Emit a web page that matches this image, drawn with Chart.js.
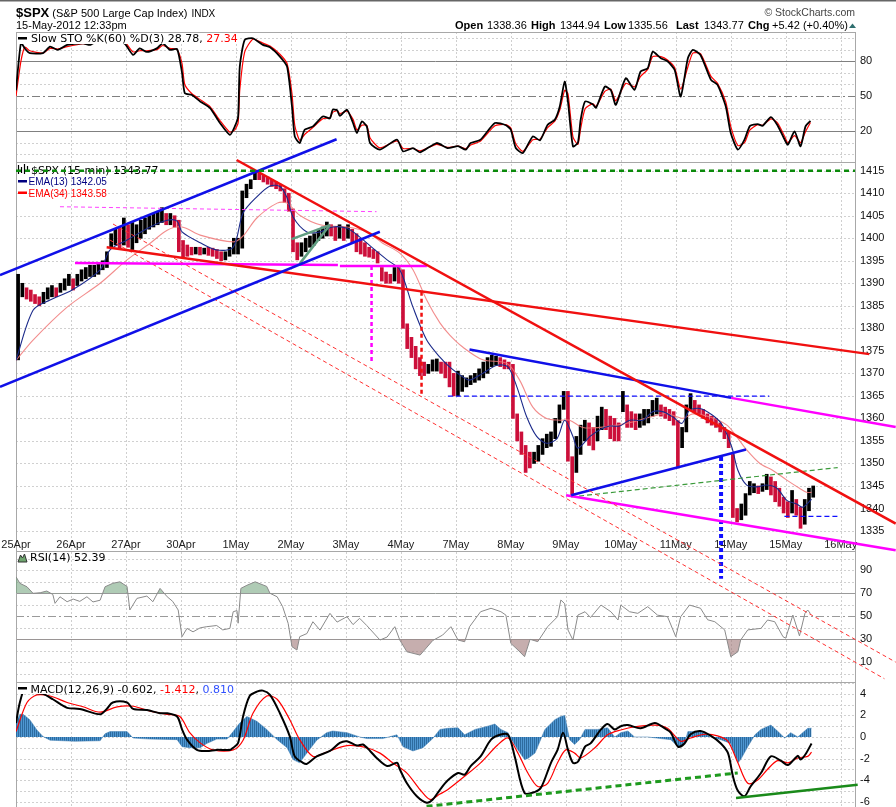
<!DOCTYPE html>
<html><head><meta charset="utf-8">
<script src="https://cdn.jsdelivr.net/npm/chart.js@4/dist/chart.umd.min.js"></script>
<style>html,body{margin:0;padding:0;background:#fff;overflow:hidden}canvas{display:block}</style>
</head><body>
<canvas id="c" width="896" height="807" style="width:896px;height:807px"></canvas>
<script>
// ---------------- DATA ----------------
const dateLabels = ['25Apr','26Apr','27Apr','30Apr','1May','2May','3May','4May','7May','8May','9May','10May','11May','14May','15May','16May'];
const BARS_PER_DAY = 13; // 30-minute bars per session

const priceHigh = [
 1392,1390,1389,1388.5,1387.5,1387,1388,1389,1389.5,1389,1390,1391,1392,
 1391,1392,1393,1393.5,1394,1394,1394.5,1395,1397,1401,1402,1402.5,1404.5,
 1403,1403.5,1403,1404,1404.5,1405,1405.5,1406,1406.8,1405.5,1405.5,1405,1404,
 1399.5,1398.5,1398,1398,1398,1397.8,1398,1397.8,1397.5,1397,1397,1398,1400,
 1400,1410.5,1412,1413,1414.7,1414.5,1414,1413.6,1413,1412.5,1412,1411,1410,
 1406.5,1399,1399,1400,1400.5,1401,1402,1402.5,1403.6,1403,1402.5,1403,1402.5,
 1403,1402,1401,1400,1399,1398,1397.5,1397,1393.5,1392.5,1392,1393.5,1393.5,
 1393,1381,1378,1376,1373.5,1372.5,1372,1373,1373.2,1372.5,1372.5,1372.5,1370,
 1370.5,1369.5,1369,1369.5,1370,1371,1372.5,1373.5,1374,1373.8,1373.5,1373,1372.5,
 1372,1361,1357,1354,1352.5,1352.5,1354,1355.5,1356.5,1357,1360,1363,1366,
 1366,1351.5,1356,1358.5,1359.6,1359,1358,1360.5,1362.5,1362,1360.5,1360,1359,
 1366,1363,1361.5,1361,1361,1362,1362,1364,1364.5,1363,1362.5,1362,1361.5,
 1359.5,1358,1363,1365.5,1364,1363,1362,1361,1360.5,1360,1359,1358,1357,
 1352,1340,1341,1343.3,1346,1345.5,1345,1345.5,1347.6,1347,1346,1344.5,1342.5,
 1341.5,1344,1342,1340.3,1342,1344.5,1345
];
const priceLow = [
 1373,1387,1386.5,1386,1385.5,1385,1385.5,1386.5,1387,1387,1388,1388.5,1389.5,
 1388.5,1389.5,1390.5,1391,1391.5,1391.5,1392,1393,1393.5,1398,1398.5,1397.5,1398.5,
 1398,1397.5,1399,1400,1401,1402,1402.5,1403,1403.5,1403,1403,1402.5,1397,
 1395.8,1396,1396.3,1396.5,1396.3,1396.5,1396.2,1396,1395.5,1395,1395.2,1396,1396.5,
 1396.5,1397.8,1409,1411,1413,1413,1412.5,1412,1411.5,1411,1410.5,1408,1406,
 1397,1395.2,1396,1397,1398,1398.5,1399.5,1400,1400.5,1400.5,1399.5,1400,1399.5,
 1400,1399,1397,1396.5,1396,1395.8,1395.5,1394.5,1390.5,1390,1390,1390.5,1390,
 1380,1375.5,1373.5,1371,1369.5,1369.5,1370,1370.5,1370.5,1370,1369,1367,1365,
 1365,1366,1367,1367.5,1368,1368.5,1369,1370,1371.5,1371.8,1371.5,1371,1371,
 1360,1355,1352,1348,1349,1350,1350.5,1352,1353.5,1353.8,1355.5,1359,1362,
 1350.5,1343,1348,1352,1355,1354,1353,1355,1357.5,1357.5,1355.5,1355,1355,
 1361.5,1358,1358,1357.5,1358,1358.5,1359,1360.5,1361,1360.5,1360,1359.5,1358.5,
 1349,1353.5,1357,1362,1361.5,1361,1360,1359,1358.5,1358,1357,1355.5,1353.5,
 1338,1337,1337.5,1338.5,1343,1343.5,1343.3,1343.8,1344.2,1343,1341.5,1340.5,1339,
 1338,1339,1338.5,1335.6,1336.5,1339.5,1342.5
];

// [trading day, value]
const ema13 = [[0,1372.9],[0.31,1384],[0.62,1386.3],[1.02,1388.5],[1.53,1393],[1.71,1397.4],[2.02,1399.6],[2.44,1402.5],[2.75,1404],[2.93,1403.8],
 [3.02,1401.4],[3.35,1399],[3.65,1397.4],[3.95,1398],[4.13,1405.6],[4.38,1409.2],[4.62,1411.6],[4.8,1411.5],[4.93,1409],[5.04,1404.7],
 [5.29,1401.4],[5.53,1401.4],[5.76,1402.5],[6.02,1402.2],[6.25,1400.3],[6.49,1397.8],[6.75,1395.2],[6.98,1393],[7.22,1384.7],[7.47,1377.4],
 [7.71,1373.6],[7.89,1371.4],[8.13,1369.2],[8.25,1368.5],[8.49,1370],[8.75,1371.8],[8.95,1371.4],[9.11,1367],[9.29,1360.3],[9.47,1356],
 [9.65,1354.5],[9.84,1355.5],[9.98,1359.6],[10.13,1356],[10.22,1353.4],[10.44,1356],[10.62,1357.5],[10.8,1358.3],[10.98,1358.3],[11.16,1359.6],
 [11.4,1359.6],[11.58,1361.5],[11.76,1361.5],[11.95,1360.3],[12.11,1358.9],[12.25,1361.8],[12.44,1362.2],[12.67,1360.7],[12.85,1358.5],[13.02,1353.6],
 [13.13,1348.5],[13.29,1345.2],[13.47,1344.8],[13.65,1345.2],[13.84,1344.5],[14.02,1341.8],[14.2,1341],[14.31,1340.3],[14.47,1342.05]];
const ema34 = [[0,1372.9],[0.31,1377.4],[0.93,1384.7],[1.53,1390],[2.02,1395.2],[2.44,1398.9],[2.75,1401.8],[3.02,1402.5],[3.35,1400.7],[3.95,1399.2],
 [4.13,1400.5],[4.38,1404.5],[4.75,1407.8],[4.93,1407.8],[5.16,1405.1],[5.53,1403],[6.02,1402.5],[6.38,1401.4],[6.67,1398.9],[6.98,1396.7],
 [7.22,1393],[7.47,1386.3],[7.71,1381.2],[7.89,1378.5],[8.13,1375.8],[8.49,1373],[8.93,1372.2],[9.16,1368.5],[9.4,1362.5],[9.65,1360],
 [9.89,1359.6],[10.07,1359.6],[10.31,1358],[10.62,1358],[10.93,1358.5],[11.22,1359.2],[11.53,1360.3],[11.84,1361.1],[12.13,1360],[12.31,1361],
 [12.62,1360.3],[12.93,1358.5],[13.11,1355.9],[13.29,1353],[13.53,1350],[13.76,1348.5],[14.02,1346.3],[14.25,1344.5],[14.38,1343.6],[14.47,1343.58]];

const stoK = [[0,55],[0.09,95.7],[0.16,91],[0.25,86.9],[0.49,87],[0.62,92.5],[0.76,89.7],[0.93,94],[1.22,95.4],[1.35,94],
 [1.53,99],[1.8,99.5],[1.98,95],[2.13,85.4],[2.25,91],[2.38,88],[2.56,91],[2.67,95.4],[2.8,89.7],[2.93,90.5],
 [3.02,70],[3.07,52.6],[3.2,51],[3.35,45.4],[3.53,39.7],[3.71,26.9],[3.89,16.8],[3.98,24],[4.04,32.5],[4.07,75.4],
 [4.16,98.3],[4.31,99.7],[4.49,94],[4.62,92],[4.8,84],[4.93,75.4],[5.02,41],[5.07,15.4],[5.16,9.7],[5.25,21.1],
 [5.4,24],[5.58,32.5],[5.71,31],[5.76,38.3],[5.84,38],[5.89,33],[6.02,38.3],[6.13,26.9],[6.2,18.3],[6.29,28.2],
 [6.38,24],[6.44,9.7],[6.62,4],[6.93,12.6],[7.04,2.5],[7.22,5.4],[7.35,1.7],[7.65,9.7],[7.85,5.4],[8.04,7],
 [8.18,4],[8.27,9.7],[8.45,12.6],[8.71,26.9],[8.91,25],[9.0,21.1],[9.09,5.4],[9.22,1.1],[9.4,15.4],[9.53,12],
 [9.67,25.4],[9.8,29.7],[9.89,41.1],[9.98,62.5],[10.04,45],[10.13,6.8],[10.22,10],[10.27,29.7],[10.35,45.4],[10.49,43],
 [10.55,40],[10.71,58.2],[10.82,55],[10.91,42.5],[11.09,65.4],[11.25,55.4],[11.36,71.1],[11.49,74],[11.58,88.2],[11.73,82.5],
 [11.85,80],[11.98,72.5],[12.09,49.7],[12.22,82.5],[12.31,89.7],[12.45,85.4],[12.64,64],[12.76,59.7],[12.91,41.1],[13.0,18.3],
 [13.13,4],[13.25,12.6],[13.35,24.5],[13.49,26],[13.58,24.5],[13.73,32],[13.85,25],[13.98,12.6],[14.04,8.3],[14.16,19.7],
 [14.27,6.8],[14.36,24],[14.45,28.78]];
const stoD = [[0,50],[0.09,80],[0.16,92],[0.25,89],[0.49,87],[0.62,91],[0.76,90.5],[0.93,92.5],[1.22,95],[1.35,94.5],
 [1.53,98],[1.8,99.5],[1.98,96.5],[2.13,88],[2.25,89],[2.38,89],[2.56,90],[2.67,93.5],[2.8,91],[2.93,90],
 [3.02,78],[3.07,60],[3.2,52],[3.35,47],[3.53,41],[3.71,29],[3.89,19],[3.98,21],[4.04,27],[4.07,55],
 [4.16,88],[4.31,99],[4.49,95.5],[4.62,93],[4.8,86],[4.93,78],[5.02,52],[5.07,25],[5.16,12],[5.25,17],
 [5.4,23],[5.58,30.5],[5.71,31.5],[5.76,36],[5.84,37.5],[5.89,35],[6.02,37],[6.13,30],[6.2,21],[6.29,25],
 [6.38,25],[6.44,14],[6.62,5.5],[6.93,11.5],[7.04,5],[7.22,5],[7.35,3],[7.65,8.5],[7.85,6],[8.04,7],
 [8.18,5],[8.27,8],[8.45,11.5],[8.71,24.5],[8.91,25.5],[9.0,22.5],[9.09,9],[9.22,2.5],[9.4,12.5],[9.53,13],
 [9.67,23],[9.8,28.5],[9.89,38],[9.98,55],[10.04,52],[10.13,15],[10.22,8.5],[10.27,22],[10.35,39],[10.49,43.5],
 [10.55,41],[10.71,54],[10.82,56],[10.91,46],[11.09,61],[11.25,58],[11.36,67],[11.49,73],[11.58,84],[11.73,84],
 [11.85,81],[11.98,74.5],[12.09,56],[12.22,75],[12.31,87],[12.45,86.5],[12.64,67],[12.76,61],[12.91,45],[13.0,24],
 [13.13,7.5],[13.25,10],[13.35,21],[13.49,25.5],[13.58,25],[13.73,30.5],[13.85,27],[13.98,15.5],[14.04,10],[14.16,16],
 [14.27,10],[14.36,19.5],[14.45,27.34]];

const rsi14 = [[0,84.4],[0.07,78.7],[0.2,75.7],[0.31,70],[0.44,70.5],[0.56,72],[0.67,69],[0.71,61.3],[0.8,67],[0.93,62.7],
 [1.04,65],[1.16,63],[1.29,67],[1.4,62.5],[1.53,64],[1.62,75.7],[1.76,78.7],[1.89,80],[2.02,76],[2.07,55.5],
 [2.2,65.6],[2.38,67.6],[2.49,62.7],[2.62,74.3],[2.75,67],[2.85,63],[2.95,55.5],[3.02,32.3],[3.11,39.5],[3.22,36.5],
 [3.35,40],[3.47,41],[3.65,42],[3.76,38.2],[3.89,39.5],[3.95,54],[4.02,55],[4.04,44],[4.09,74.3],[4.2,77],
 [4.35,80],[4.56,76],[4.62,70],[4.75,67],[4.85,58.4],[4.95,43.9],[5.02,23.6],[5.11,20.7],[5.16,32.3],[5.29,35],
 [5.4,45.3],[5.53,38],[5.71,52.6],[5.84,45],[6.02,49.7],[6.13,42.8],[6.25,48.3],[6.38,42],[6.62,29.4],[6.75,32],
 [6.89,41],[6.98,29.4],[7.11,19.2],[7.35,16.3],[7.58,29],[7.76,33.7],[7.91,41],[8.04,29.4],[8.16,27.9],[8.25,41],
 [8.45,54],[8.64,57],[8.82,54],[8.91,51.1],[9.0,26.5],[9.13,20.7],[9.25,14.9],[9.35,30],[9.49,28],[9.67,41],
 [9.85,49.7],[9.91,64.2],[9.98,61],[10.04,38.1],[10.13,29.4],[10.22,51.1],[10.35,54],[10.45,49],[10.64,59.8],[10.82,54],
 [10.95,46.8],[11.0,59.8],[11.16,54],[11.31,52.6],[11.49,58.4],[11.67,51],[11.85,49.7],[12.0,32.3],[12.09,49.7],[12.25,59.8],
 [12.45,57],[12.58,47],[12.71,45.3],[12.89,38.2],[13.0,14.9],[13.13,19.2],[13.18,29.4],[13.31,38.2],[13.55,39.5],[13.67,46.8],
 [13.8,45.3],[13.95,32.3],[14.0,31],[14.13,51.1],[14.25,33],[14.35,52.6],[14.4,55.5],[14.45,52.39]];

const macdLine = [[0,1.3],[0.07,3.2],[0.16,4.4],[0.31,4.1],[0.49,4.0],[0.67,3.5],[0.93,2.7],[1.16,2.6],[1.53,2.1],[1.65,2.6],
 [1.76,3.2],[2.02,3.2],[2.13,2.6],[2.38,2.5],[2.62,2.2],[2.75,2.2],[2.93,1.9],[3.02,0.7],[3.11,-0.25],[3.29,-1.2],
 [3.47,-1.3],[3.65,-1.2],[3.89,-1.2],[3.95,-1.0],[4.04,-0.55],[4.13,1.9],[4.25,3.8],[4.38,4.2],[4.49,4.3],[4.62,3.9],
 [4.8,2.2],[4.98,0.05],[5.07,-1.8],[5.22,-2.4],[5.29,-2.5],[5.47,-1.8],[5.71,-1.3],[5.89,-0.55],[6.02,-0.4],[6.2,-0.8],
 [6.31,-0.7],[6.44,-1.3],[6.56,-1.95],[6.75,-2.7],[6.93,-2.4],[6.98,-3.0],[7.11,-4.3],[7.29,-5.5],[7.47,-6.1],[7.58,-5.8],
 [7.71,-4.9],[7.85,-4.05],[8.04,-3.35],[8.16,-3.5],[8.27,-2.7],[8.45,-1.8],[8.64,-0.25],[8.8,0.2],[8.95,0.2],[9.07,-1.8],
 [9.25,-5.2],[9.44,-5.1],[9.55,-4.7],[9.73,-2.4],[9.85,-1.2],[9.95,0.4],[10.04,-1.2],[10.13,-2.4],[10.22,-2.3],[10.35,-0.9],
 [10.45,-0.6],[10.64,0.7],[10.76,1.2],[10.89,0.7],[11.0,1.0],[11.13,1.1],[11.36,0.8],[11.62,1.3],[11.8,0.8],[11.91,0.4],
 [12.04,-0.9],[12.16,-0.6],[12.27,0.25],[12.45,0.55],[12.64,0.1],[12.82,-0.6],[12.95,-1.5],[13.04,-3.65],[13.13,-5.0],[13.25,-5.5],
 [13.36,-4.6],[13.55,-3.35],[13.73,-1.8],[13.91,-2.2],[14.04,-2.6],[14.22,-1.75],[14.27,-2.1],[14.36,-1.6],[14.47,-0.602]];
const macdSignal = [[0,0.5],[0.2,3.2],[0.38,3.9],[0.62,3.8],[0.93,3.2],[1.22,2.8],[1.53,2.3],[1.84,2.8],[2.13,2.85],[2.44,2.4],
 [2.75,2.1],[2.98,1.9],[3.16,0.4],[3.35,-0.55],[3.58,-1.2],[3.95,-1.2],[4.13,-0.3],[4.31,2.2],[4.56,3.8],[4.75,3.5],
 [4.98,1.6],[5.16,-0.25],[5.4,-1.8],[5.65,-1.4],[6.02,-0.8],[6.38,-1.0],[6.62,-1.5],[6.85,-2.4],[7.11,-3.35],[7.35,-4.9],
 [7.53,-5.8],[7.71,-5.3],[7.85,-4.9],[8.16,-3.65],[8.45,-2.4],[8.76,-0.75],[8.95,-0.1],[9.13,-1.5],[9.31,-3.35],[9.49,-4.6],
 [9.67,-4.3],[9.85,-2.4],[10.0,-1.2],[10.16,-1.5],[10.27,-1.95],[10.53,-1.0],[10.76,0.2],[11.0,0.65],[11.25,0.95],[11.62,1.1],
 [11.85,0.8],[12.09,-0.4],[12.27,-0.1],[12.53,0.25],[12.76,0.1],[12.95,-0.4],[13.13,-2.4],[13.31,-4.3],[13.49,-4.0],[13.67,-3.0],
 [13.85,-2.2],[14.04,-2.4],[14.22,-1.95],[14.4,-1.8],[14.47,-1.412]];
const macdHist = [[0,1.3],[0.07,2.1],[0.13,2.1],[0.25,1.6],[0.38,0.65],[0.49,0.05],[0.62,-0.3],[1.07,-0.4],[1.53,-0.35],[1.62,0.3],
 [1.71,0.5],[2.02,0.5],[2.13,-0.1],[2.44,-0.2],[2.93,-0.25],[3.02,-0.9],[3.16,-1.0],[3.35,-1.0],[3.47,-0.6],[3.65,-0.2],
 [3.84,-0.2],[3.95,0.5],[4.07,1.3],[4.2,1.9],[4.38,1.45],[4.56,0.7],[4.75,-0.25],[4.93,-1.0],[5.04,-2.1],[5.16,-2.4],
 [5.29,-1.5],[5.47,-0.3],[5.65,0.4],[5.76,0.55],[6.02,0.4],[6.25,0.0],[6.38,-0.15],[6.67,-0.15],[6.93,0.2],[7.04,-0.9],
 [7.22,-1.3],[7.4,-1.0],[7.58,-0.15],[7.71,0.7],[7.85,0.8],[8.04,0.85],[8.16,0.2],[8.35,0.7],[8.58,1.0],[8.71,1.2],
 [8.82,0.7],[8.95,0.4],[9.0,-0.15],[9.13,-1.2],[9.25,-2.1],[9.31,-2.0],[9.44,-1.5],[9.62,0.7],[9.8,1.6],[9.91,1.9],
 [9.98,2.0],[10.07,-0.25],[10.16,-0.7],[10.25,-0.25],[10.35,0.7],[10.58,0.7],[10.76,0.85],[10.89,0.0],[11.0,0.4],[11.13,0.55],
 [11.25,0.0],[11.49,0.0],[11.73,-0.15],[11.91,-0.25],[12.04,-0.9],[12.16,-0.6],[12.22,0.5],[12.45,0.5],[12.64,0.0],[12.82,-0.25],
 [13.0,-0.6],[13.13,-2.4],[13.18,-2.1],[13.31,-0.9],[13.44,0.2],[13.55,0.7],[13.73,1.1],[13.85,0.55],[13.98,-0.1],[14.09,0.4],
 [14.22,0.0],[14.4,0.8],[14.47,0.81]];

// drawn trend lines: [day1, value1, day2, value2]
const trendLines = {
  greenTop:      [0, 1415, 15.26, 1415],
  blueChanUp:    [-0.291, 1391.8, 5.831, 1421.98],
  blueChanLow:   [-0.291, 1367.0, 6.618, 1401.44],
  redDown:       [4.013, 1417.38, 16.0, 1336.64],
  redNeck:       [1.649, 1397.98, 15.52, 1374.27],
  magH1:         [1.073, 1394.49, 5.855, 1394.04],
  magH2:         [5.891, 1393.82, 7.473, 1393.82],
  magDashTop:    [0.8, 1407.0, 6.558, 1405.9],
  magVert:       [6.467, 1393.82, 6.467, 1372.2],
  redVert:       [7.376, 1388.1, 7.376, 1365.5],
  redChanB:      [1.764, 1403.16, 16.0, 1305.89],
  redChanA:      [1.709, 1399.6, 15.795, 1302.2],
  blueTriTop:    [8.249, 1375.31, 13.005, 1364.56],
  magTriTop:     [13.005, 1364.56, 16.0, 1358.11],
  blueDash1365:  [7.855, 1364.93, 13.70, 1364.93],
  blueTriBottom: [10.097, 1342.93, 13.278, 1353.09],
  magBottom:     [10.005, 1342.93, 16.0, 1330.71],
  greenThin:     [10.097, 1342.56, 14.945, 1349.09],
  blueDash1338:  [13.976, 1338.27, 14.976, 1338.27],
  blueDotVert:   [12.824, 1351.44, 12.824, 1324.42],
  tealA:         [5.013, 1399.82, 5.709, 1402.93],
  tealB:         [5.164, 1394.42, 5.709, 1402.93],
  macdGreenDash: [7.467, -6.44, 13.127, -3.34],
  macdGreenSolid:[13.096, -5.66, 15.309, -4.43]
};

const stoTicks = [20, 50, 80];
const priceTicks = [1335,1340,1345,1350,1355,1360,1365,1370,1375,1380,1385,1390,1395,1400,1405,1410,1415];
const rsiTicks = [10, 30, 50, 70, 90];
const macdTicks = [-6, -4, -2, 0, 2, 4];

// ---------------- STYLES ----------------
const trendStyle = {
  greenTop:      {axis:'price', color:'#0b8a0b', w:2.5, dash:[5,4]},
  blueChanUp:    {axis:'price', color:'#1010e8', w:2.5},
  blueChanLow:   {axis:'price', color:'#1010e8', w:2.5},
  redDown:       {axis:'price', color:'#f01010', w:2.5},
  redNeck:       {axis:'price', color:'#f01010', w:2.5},
  magH1:         {axis:'price', color:'#ff00ff', w:2.5},
  magH2:         {axis:'price', color:'#ff00ff', w:2.5},
  magDashTop:    {axis:'price', color:'#ff40ff', w:1, dash:[4,3]},
  magVert:       {axis:'price', color:'#ff00ff', w:2.5, dash:[4,3]},
  redVert:       {axis:'price', color:'#f01010', w:2.5, dash:[4,3]},
  redChanB:      {axis:'price', color:'#ff3030', w:1, dash:[4,3]},
  redChanA:      {axis:'price', color:'#ff3030', w:1, dash:[4,3]},
  blueTriTop:    {axis:'price', color:'#1010e8', w:2.5},
  magTriTop:     {axis:'price', color:'#ff00ff', w:2.5},
  blueDash1365:  {axis:'price', color:'#1010ff', w:1.2, dash:[5,3]},
  blueTriBottom: {axis:'price', color:'#1010e8', w:2.5},
  magBottom:     {axis:'price', color:'#ff00ff', w:2.5},
  greenThin:     {axis:'price', color:'#3a9a3a', w:1.2, dash:[5,3]},
  blueDash1338:  {axis:'price', color:'#1010ff', w:1.2, dash:[5,3]},
  blueDotVert:   {axis:'price', color:'#1010ff', w:4, dash:[4,3]},
  tealA:         {axis:'price', color:'#5f9c80', w:2.5},
  tealB:         {axis:'price', color:'#5f9c80', w:2.5},
  macdGreenDash: {axis:'macd', color:'#1e9a1e', w:3, dash:[6,4]},
  macdGreenSolid:{axis:'macd', color:'#1a8a1a', w:2.5}
};

const canvas = document.getElementById('c');
const ctx = canvas.getContext('2d');
const pts = arr => arr.map(p => ({x: p[0], y: p[1]}));

// histogram stripe pattern
const pc = document.createElement('canvas'); pc.width = 2; pc.height = 1;
const pg = pc.getContext('2d');
pg.fillStyle = '#2d6b9f'; pg.fillRect(0,0,1,1);
pg.fillStyle = '#4f97d2'; pg.fillRect(1,0,1,1);
const histPattern = ctx.createPattern(pc, 'repeat');

const priceBars = priceHigh.map((h, i) => ({
  x: Math.floor(i / BARS_PER_DAY) + ((i % BARS_PER_DAY) + 0.5) / BARS_PER_DAY,
  y: [priceLow[i], h]
}));
const barColors = priceHigh.map((h, i) => {
  if (i === 0) return '#000';
  const m = (h + priceLow[i]) / 2, p = (priceHigh[i-1] + priceLow[i-1]) / 2;
  return m >= p ? '#000000' : '#cc0f3a';
});

const datasets = [];
Object.keys(trendLines).forEach(k => {
  const a = trendLines[k], s = trendStyle[k];
  datasets.push({type:'line', data:[{x:a[0],y:a[1]},{x:a[2],y:a[3]}], yAxisID:s.axis, xAxisID:'x',
    borderColor:s.color, borderWidth:s.w, borderDash:s.dash || [], pointRadius:0, clip:false, order:0, tension:0, fill:false});
});
datasets.push(
  {type:'line', data:pts(stoK), yAxisID:'sto', borderColor:'#000', borderWidth:1.8, pointRadius:0, tension:0.2, order:1},
  {type:'line', data:pts(stoD), yAxisID:'sto', borderColor:'#ff0000', borderWidth:1.2, pointRadius:0, tension:0.2, order:2},
  {type:'line', data:pts(ema13), yAxisID:'price', borderColor:'#1b2a8a', borderWidth:1.1, pointRadius:0, tension:0.3, order:3},
  {type:'line', data:pts(ema34), yAxisID:'price', borderColor:'rgba(240,120,120,0.85)', borderWidth:1.1, pointRadius:0, tension:0.3, order:4},
  {type:'bar', data:priceBars, yAxisID:'price', xAxisID:'x', backgroundColor:barColors, borderWidth:0, barThickness:3, grouped:false, order:5},
  {type:'line', data:pts(rsi14), yAxisID:'rsi', borderColor:'#8a8a8a', borderWidth:1, pointRadius:0, tension:0, order:1,
    fill:{target:{value:70}, above:'rgba(110,160,120,0.55)', below:'rgba(0,0,0,0)'}},
  {type:'line', data:pts(rsi14), yAxisID:'rsi', borderColor:'rgba(0,0,0,0)', borderWidth:0, pointRadius:0, tension:0, order:2,
    fill:{target:{value:30}, above:'rgba(0,0,0,0)', below:'rgba(160,120,120,0.6)'}},
  {type:'line', data:pts(macdLine), yAxisID:'macd', borderColor:'#000', borderWidth:2, pointRadius:0, tension:0.3, order:1},
  {type:'line', data:pts(macdSignal), yAxisID:'macd', borderColor:'#ff0000', borderWidth:1.2, pointRadius:0, tension:0.3, order:2},
  {type:'line', data:pts(macdHist), yAxisID:'macd', borderColor:'#3a7ab0', borderWidth:0.5, pointRadius:0, tension:0, order:6,
    fill:'origin', backgroundColor:histPattern}
);

const TICK_FONT = {family:'Liberation Sans, Arial, sans-serif', size:11};
function yAxis(min, max, weight, ticks) {
  return {
    type:'linear', position:'right', stack:'panels', stackWeight:weight, min, max,
    bounds:'data', beginAtZero:false,
    grid:{display:false, drawTicks:false}, border:{display:false},
    ticks:{padding:5, autoSkip:false, font:TICK_FONT, color:'#111', callback:v => String(v)},
    afterBuildTicks: s => { s.ticks = ticks.map(v => ({value:v})); },
    afterFit: s => { s.width = 41; s.paddingTop = 0; s.paddingBottom = 0; }
  };
}

const range = (a, b, s) => { const r = []; for (let v = a; v <= b + 1e-9; v += s) r.push(v); return r; };

function line(c, x1, y1, x2, y2, color, w, dash) {
  c.save(); c.beginPath(); c.strokeStyle = color; c.lineWidth = w; c.setLineDash(dash || []);
  c.moveTo(x1, y1); c.lineTo(x2, y2); c.stroke(); c.restore();
}
function runs(c, x, y, parts) {
  let cx = x;
  parts.forEach(p => { c.font = p[2]; c.fillStyle = p[1]; c.fillText(p[0], cx, y); cx += c.measureText(p[0]).width; });
  return cx;
}
const LEG = '11px "DejaVu Sans", Verdana, sans-serif';
const ARI = (s, b) => (b ? 'bold ' : '') + s + 'px "Liberation Sans", Arial, sans-serif';

const panelPlugin = {
  id:'panels',
  beforeDatasetsDraw(chart) {
    const c = chart.ctx, sc = chart.scales, L = chart.chartArea.left, R = chart.chartArea.right;
    const top = sc.sto.top, bot = sc.macd.bottom;
    c.save();
    for (let d = 1; d < dateLabels.length; d++) {
      const x = Math.round(sc.x.getPixelForValue(d)) + 0.5;
      if (x < R) line(c, x, top, x, bot, '#cfcfcf', 1, [2,2]);
    }
    const hy = (s, v) => Math.round(s.getPixelForValue(v)) + 0.5;
    range(0, 100, 10).forEach(v => {
      const y = hy(sc.sto, v);
      if (v === 20 || v === 80) line(c, L, y, R, y, '#808080', 1);
      else if (v === 50) line(c, L, y, R, y, '#808080', 1, [8,3,2,3]);
      else line(c, L, y, R, y, '#d0d0d0', 1, [2,2]);
    });
    priceTicks.forEach(v => { const y = hy(sc.price, v); line(c, L, y, R, y, '#d0d0d0', 1, [2,2]); });
    range(0, 100, 10).forEach(v => {
      const y = hy(sc.rsi, v);
      if (v === 30 || v === 70) line(c, L, y, R, y, '#9a9a9a', 1);
      else if (v === 50) line(c, L, y, R, y, '#9a9a9a', 1, [8,3,2,3]);
      else line(c, L, y, R, y, '#d0d0d0', 1, [2,2]);
    });
    range(-6, 5, 1).forEach(v => { const y = hy(sc.macd, v); line(c, L, y, R, y, '#d0d0d0', 1, [2,2]); });
    c.strokeStyle = '#a8a8a8'; c.lineWidth = 1; c.setLineDash([]);
    ['sto','price','rsi','macd'].forEach(k => {
      const s = sc[k];
      c.strokeRect(L + 0.5, Math.round(s.top) + 0.5, R - L, Math.round(s.bottom - s.top));
    });
    c.font = ARI(11); c.fillStyle = '#222'; c.textAlign = 'center'; c.textBaseline = 'middle';
    const dy = sc.price.bottom - 6;
    dateLabels.forEach((t, d) => c.fillText(t, sc.x.getPixelForValue(d), dy));
    c.textAlign = 'left'; c.textBaseline = 'alphabetic';
    const py = sc.price.top;
    line(c, 18.5, py + 3, 18.5, py + 12, '#000', 1.2);
    line(c, 21.5, py + 5, 21.5, py + 11, '#000', 1.2);
    line(c, 24.5, py + 2, 24.5, py + 12, '#000', 1.2);
    line(c, 27.5, py + 4, 27.5, py + 10, '#000', 1.2);
    runs(c, 31, py + 11.5, [['$SPX (15 min) 1343.77', '#000', LEG]]);
    c.fillStyle = '#000080'; c.fillRect(18, py + 18, 9, 2.5);
    runs(c, 28.5, py + 23, [['EMA(13) 1342.05', '#000080', ARI(10)]]);
    c.fillStyle = '#ff0000'; c.fillRect(18, py + 29.5, 9, 2.5);
    runs(c, 28.5, py + 34.5, [['EMA(34) 1343.58', '#ff0000', ARI(10)]]);
    c.restore();
  },
  afterDatasetsDraw(chart) {
    const c = chart.ctx, sc = chart.scales;
    c.save();
    let y0 = sc.sto.top;
    c.font = LEG;
    let w = c.measureText('Slow STO %K(60) %D(3) 28.78, 27.34').width;
    c.fillStyle = '#fff'; c.fillRect(17, y0 + 1, w + 16, 11);
    c.fillStyle = '#000'; c.fillRect(18, y0 + 5, 9, 2.5);
    runs(c, 31, y0 + 10, [['Slow STO %K(60) %D(3) 28.78, ', '#000', LEG], ['27.34', '#ff0000', LEG]]);
    y0 = sc.rsi.top;
    c.beginPath(); c.moveTo(18, y0 + 11); c.lineTo(20.5, y0 + 4); c.lineTo(22.5, y0 + 7); c.lineTo(24.5, y0 + 3); c.lineTo(27, y0 + 11); c.closePath();
    c.fillStyle = '#6fa56f'; c.fill(); c.strokeStyle = '#333'; c.lineWidth = 1; c.stroke();
    runs(c, 30, y0 + 10, [['RSI(14) 52.39', '#000', LEG]]);
    y0 = sc.macd.top;
    c.font = LEG;
    w = c.measureText('MACD(12,26,9) -0.602, -1.412, 0.810').width;
    c.fillStyle = '#fff'; c.fillRect(17, y0 + 1, w + 16, 11);
    c.fillStyle = '#000'; c.fillRect(18, y0 + 5, 9, 2.5);
    runs(c, 30.5, y0 + 10.5, [['MACD(12,26,9) -0.602', '#000', LEG], [', ', '#000', LEG], ['-1.412', '#ff0000', LEG], [', ', '#000', LEG], ['0.810', '#3050ff', LEG]]);
    c.restore();
  },
  afterDraw(chart) {
    const c = chart.ctx;
    c.save();
    c.fillStyle = '#666'; c.fillRect(0, 0, chart.width, 1.5);
    let ex = runs(c, 16, 17, [['$SPX', '#000', ARI(13, true)]]);
    ex = runs(c, ex + 3, 17, [['(S&P 500 Large Cap Index)', '#000', ARI(11)]]);
    runs(c, ex + 4, 17, [['INDX', '#000', ARI(10)]]);
    runs(c, 16, 29, [['15-May-2012 12:33pm', '#000', ARI(11)]]);
    c.font = ARI(10.5); c.fillStyle = '#444'; c.textAlign = 'right';
    c.fillText('\u00A9 StockCharts.com', 855, 16);
    c.textAlign = 'left';
    const hdr = [['Open', 455, true], ['1338.36', 487, false], ['High', 531, true], ['1344.94', 560, false],
                 ['Low', 604, true], ['1335.56', 628, false], ['Last', 676, true], ['1343.77', 704, false],
                 ['Chg', 748, true], ['+5.42 (+0.40%)', 772, false]];
    hdr.forEach(h => runs(c, h[1], 29, [[h[0], '#000', ARI(11, h[2])]]));
    c.beginPath(); c.moveTo(849, 28); c.lineTo(852.5, 23.5); c.lineTo(856, 28); c.closePath();
    c.fillStyle = '#2f6f6f'; c.fill();
    c.restore();
  }
};

new Chart(ctx, {
  type:'line',
  data:{datasets},
  options:{
    responsive:false, animation:false, events:[],
    layout:{padding:{left:16, top:32, right:0, bottom:0}},
    plugins:{legend:{display:false}, tooltip:{enabled:false}},
    scales:{
      x:{type:'linear', min:0, max:15.26, display:false, offset:false, grid:{display:false, offset:false}},
      sto: yAxis(-6.6, 105.1, 130, stoTicks),
      price: yAxis(1330.56, 1416.93, 389, priceTicks),
      rsi: yAxis(-7.1, 106.8, 131, rsiTicks),
      macd: yAxis(-6.5, 5.1, 125, macdTicks)
    }
  },
  plugins:[panelPlugin]
});
</script>
</body></html>
